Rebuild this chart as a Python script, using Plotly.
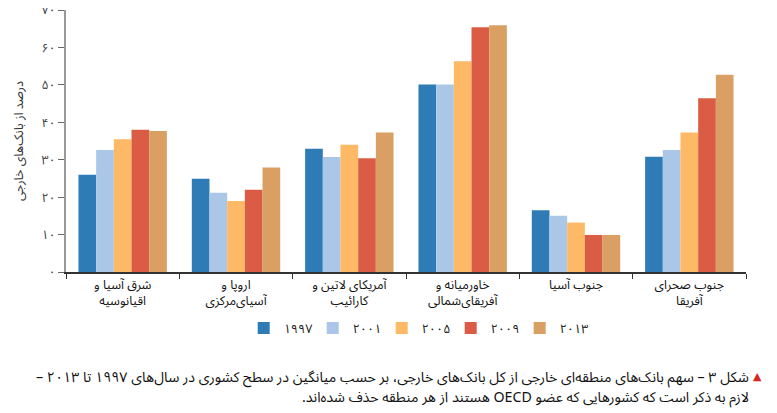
import plotly.graph_objects as go

categories = [
    "شرق آسیا و<br>اقیانوسیه",
    "اروپا و<br>آسیای‌مرکزی",
    "آمریکای لاتین و<br>کارائیب",
    "خاورمیانه و<br>آفریقای‌شمالی",
    "جنوب آسیا",
    "جنوب صحرای<br>آفریقا",
]
series_names = ["۱۹۹۷", "۲۰۰۱", "۲۰۰۵", "۲۰۰۹", "۲۰۱۳"]
v1997 = [26.0, 24.9, 32.9, 50.1, 16.5, 30.8]
v2001 = [32.6, 21.2, 30.7, 50.1, 15.0, 32.6]
v2005 = [35.5, 19.0, 34.0, 56.3, 13.2, 37.3]
v2009 = [38.0, 22.0, 30.4, 65.4, 9.9, 46.4]
v2013 = [37.7, 27.9, 37.3, 65.9, 9.9, 52.7]
series_values = [v1997, v2001, v2005, v2009, v2013]
colors = ["#2f7bb6", "#aac7e8", "#fdb965", "#da5c44", "#daa063"]
y_tickvals = [0, 10, 20, 30, 40, 50, 60, 70]
y_ticktext = ["۰", "۱۰", "۲۰", "۳۰", "۴۰", "۵۰", "۶۰", "۷۰"]

FONT = "Noto Sans Arabic, DejaVu Sans, sans-serif"
RLE, PDF = "\u202b", "\u202c"

fig = go.Figure()
for name, vals, c in zip(series_names, series_values, colors):
    fig.add_trace(go.Bar(x=categories, y=vals, name=name, marker=dict(color=c, line=dict(width=0))))

# page body has an 8px margin: figure is shrunk/offset accordingly
fig.update_layout(
    width=769, height=405,
    margin=dict(l=58, r=31, t=2, b=141, autoexpand=False),
    paper_bgcolor="white", plot_bgcolor="white",
    barmode="group", bargap=0.22, bargroupgap=0,
    font=dict(family=FONT, size=12, color="#111"),
    showlegend=True,
    legend=dict(orientation="h", x=0.515, xanchor="center", y=-0.215, yanchor="middle",
                font=dict(size=12.5, color="#222"), itemwidth=30, entrywidth=24,
                entrywidthmode="pixels", traceorder="normal"),
    xaxis=dict(type="category", showline=True, linecolor="#333", linewidth=1.5,
               ticks="outside", tickson="boundaries", ticklen=5, tickcolor="#333",
               tickfont=dict(size=12.5, color="#111"), showgrid=False, automargin=False),
    yaxis=dict(range=[0, 70], tickvals=y_tickvals, ticktext=y_ticktext,
               showline=True, linecolor="#999", linewidth=1.5, ticks="outside",
               ticklen=6, tickcolor="#666", showgrid=False, zeroline=False,
               tickfont=dict(size=12.5, color="#444"), automargin=False,
               ticklabeloverflow="allow"),
)

fig.add_annotation(text="درصد از بانک‌های خارجی", xref="paper", yref="paper",
                   x=-0.069, y=0.5, textangle=-90, showarrow=False,
                   font=dict(size=12.5, color="#333"), xanchor="center", yanchor="middle")

fig.add_annotation(text="▲", xref="paper", yref="paper", x=1.026, y=-0.40,
                   xanchor="right", yanchor="middle", showarrow=False,
                   font=dict(size=11, color="#d7261e"))
fig.add_annotation(text=RLE + "شکل ۳ – سهم بانک‌های منطقه‌ای خارجی از کل بانک‌های خارجی، بر حسب میانگین در سطح کشوری در سال‌های ۱۹۹۷ تا ۲۰۱۳ –" + PDF,
                   xref="paper", yref="paper", x=1.007, y=-0.40,
                   xanchor="right", yanchor="middle", showarrow=False,
                   font=dict(size=14.2, color="#111"))
fig.add_annotation(text=RLE + "لازم به ذکر است که کشورهایی که عضو OECD هستند از هر منطقه حذف شده‌اند." + PDF,
                   xref="paper", yref="paper", x=1.007, y=-0.478,
                   xanchor="right", yanchor="middle", showarrow=False,
                   font=dict(size=14.2, color="#111"))

fig.write_html("out.html")
